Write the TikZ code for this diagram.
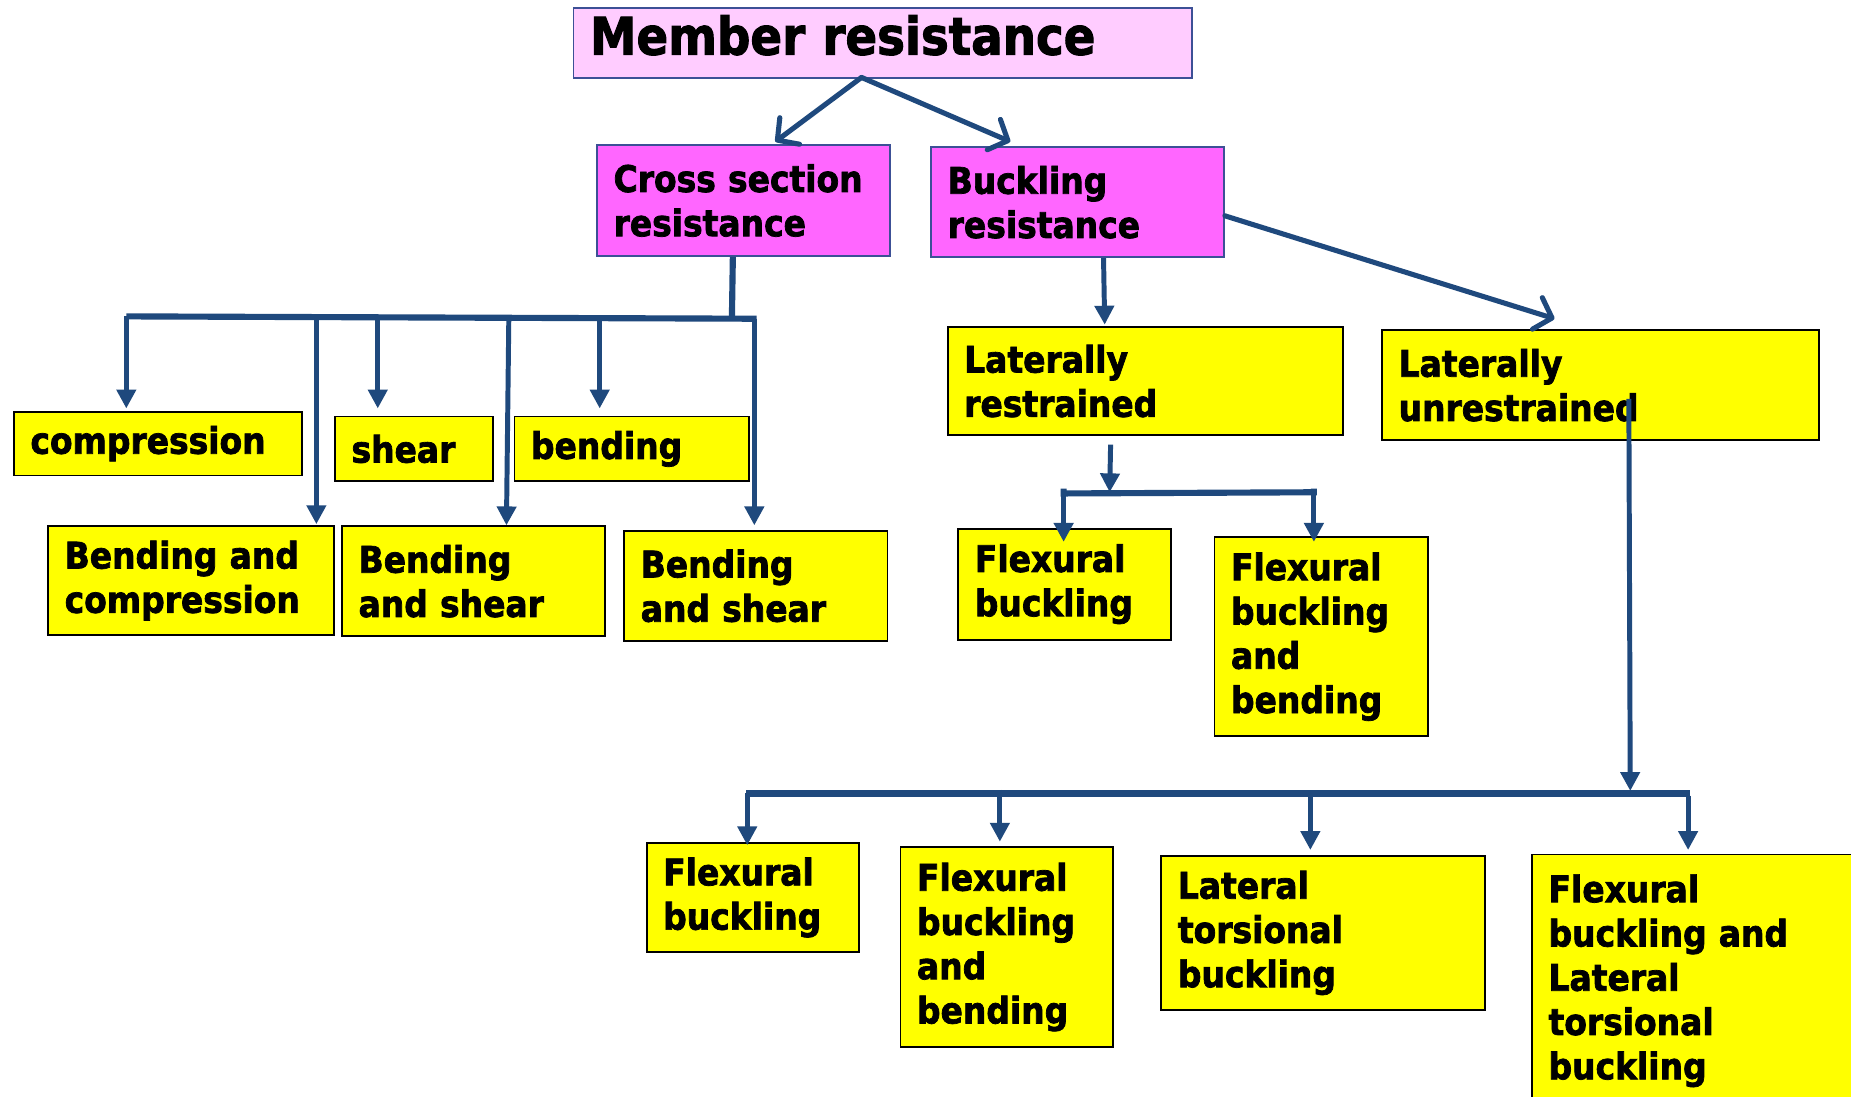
\documentclass[tikz,border=0pt]{standalone}
\usepackage{fontspec}
\setmainfont{DejaVu Sans}[FakeStretch=0.9,BoldFeatures={FakeBold=2}]
\usetikzlibrary{arrows.meta,calc}
\definecolor{linkblue}{RGB}{31,73,125}
\definecolor{palepink}{RGB}{255,204,255}
\definecolor{pinkbox}{RGB}{255,102,255}
\definecolor{frameblue}{RGB}{60,80,150}
\definecolor{boxyellow}{RGB}{255,255,0}
\begin{document}
\begin{tikzpicture}[x=1pt,y=-1pt,
  box/.style={draw=black, line width=1.6pt, fill=boxyellow, rectangle, anchor=north west,
    inner xsep=14pt, inner ysep=0pt, align=left,
    font=\bfseries\fontsize{31}{37.5}\selectfont},
  headbox/.style={box, draw=frameblue, fill=pinkbox},
  toparrow/.style={draw=linkblue, line width=4.3pt, line cap=round,
    -{Straight Barb[length=13pt,width=28pt,round]}},
  drop/.style={draw=linkblue, line width=4.2pt, -{Triangle[length=16pt,width=16pt]}},
  bar/.style={draw=linkblue, line width=5.2pt},
  thickbar/.style={draw=linkblue, line width=6.2pt}]
\useasboundingbox (0,0) rectangle (1568,929);
\clip (0,0) rectangle (1568,929);
\fill[white] (0,0) rectangle (1568,929);

% top level
\node[headbox, fill=palepink, minimum width=524pt, minimum height=59pt, text width=496pt,
  text height=32pt, text depth=12pt, font=\bfseries\fontsize{44}{50}\selectfont]
  (member) at (485,6) {Member~resistance};
\node[headbox, minimum width=248pt, minimum height=94pt, text width=220pt] (cross) at (505,122) {Cross~section\\resistance};
\node[headbox, minimum width=248pt, minimum height=93pt, text width=220pt] (buck) at (788,124) {Buckling\\resistance};

% cross section resistance branch
\node[box, minimum width=244pt, minimum height=54pt, text width=216pt] (comp) at (11,348) {compression};
\node[box, minimum width=134pt, minimum height=55pt, text width=106pt] (shear) at (283,352) {shear};
\node[box, minimum width=199pt, minimum height=55pt, text width=171pt] (bend) at (435,352) {bending};
\node[box, minimum width=242pt, minimum height=92pt, text width=214pt] (bendcomp) at (40,445) {Bending~and\\compression};
\node[box, minimum width=223pt, minimum height=93pt, text width=195pt] (bendshearA) at (289,445) {Bending\\and~shear};
\node[box, minimum width=223pt, minimum height=93pt, text width=195pt] (bendshearB) at (528,449) {Bending\\and~shear};

% buckling resistance branch
\node[box, minimum width=335pt, minimum height=92pt, text width=307pt] (latres) at (802,276) {Laterally\\restrained};
\node[box, minimum width=370pt, minimum height=93pt, text width=342pt] (latunres) at (1170,279) {Laterally\\unrestrained};
\node[box, minimum width=180pt, minimum height=94pt, text width=152pt] (flexA) at (811,447) {Flexural\\buckling};
\node[box, minimum width=181pt, minimum height=169pt, text width=153pt] (flexbendA) at (1028,454) {Flexural\\buckling\\and\\bending};
\node[box, minimum width=180pt, minimum height=93pt, text width=152pt] (flexB) at (547,713) {Flexural\\buckling};
\node[box, minimum width=180pt, minimum height=169pt, text width=152pt] (flexbendB) at (762,717) {Flexural\\buckling\\and\\bending};
\node[box, minimum width=274pt, minimum height=131pt, text width=246pt] (lts) at (983,724) {Lateral\\torsional\\buckling};
\node[box, minimum width=310pt, minimum height=214pt, text width=282pt] (flexlts) at (1297,723) {Flexural\\buckling~and\\Lateral\\torsional\\buckling};

% connectors from the top box
\draw[toparrow] ($(member.south)+(-18,-1)$) -- ($(cross.north)+(27,-2)$);
\draw[toparrow] ($(member.south)+(-18,-1)$) -- ($(buck.north)+(-57,-4)$);
\draw[toparrow] ($(buck.east)+(0,11.5)$) -- ($(latunres.north)+(-39,-9)$);
\draw[drop] ($(buck.south)+(22,0)$) -- ($(latres.north)+(-34.5,-1)$);

% cross section bus
\coordinate (jA) at (620,269);
\coordinate (aL) at (107,268);
\coordinate (aR) at (641,270);
\coordinate (a2) at (268,269);
\coordinate (a3) at (320,269);
\coordinate (a4) at (431,271);
\coordinate (a5) at (508,269);
\coordinate (a6) at (639,270);
\draw[bar] ($(cross.south)+(-9,0)$) -- (jA);
\draw[bar] (aL) -- (aR);
\draw[drop] (aL) -- ($(aL |- comp.north)+(0,-2)$);
\draw[drop] (a2) -- ($(a2 |- bendcomp.north)+(0,-1)$);
\draw[drop] (a3) -- ($(a3 |- shear.north)+(0,-6)$);
\draw[drop] (a4) -- ($(a4 |- bendshearA.north)+(-2,0)$);
\draw[drop] (a5) -- ($(a5 |- bend.north)+(0,-6)$);
\draw[drop] (a6) -- ($(a6 |- bendshearB.north)+(0,-4)$);

% laterally restrained bus
\coordinate (jB) at (940,417);
\coordinate (bL) at (901,418);
\coordinate (bR) at (1113,417);
\draw[drop] ($(latres.south)+(-29.5,7)$) -- (jB);
\draw[bar] ($(bL)+(0,-4)$) -- (bL) -- (bR) -- ($(bR)+(0,-3)$);
\draw[drop] (bL) -- ($(bL |- flexA.north)+(0,12)$);
\draw[drop] (bR) -- ($(bR |- flexbendA.north)+(0,5)$);

% laterally unrestrained bus
\coordinate (jC) at (1381,670);
\coordinate (cL) at (632,672);
\coordinate (cR) at (1432,672);
\coordinate (c1) at (633,672);
\coordinate (c2) at (847,669);
\coordinate (c3) at (1110,674);
\coordinate (c4) at (1430,674);
\draw[drop] ($(latunres.center)+(24,11.5)$) -- (jC);
\draw[thickbar] (cL) -- (cR);
\draw[drop] (c1) -- ($(c1 |- flexB.north)+(0,3)$);
\draw[drop] (c2) -- ($(c2 |- flexbendB.north)+(0,-4)$);
\draw[drop] (c3) -- ($(c3 |- lts.north)+(0,-4)$);
\draw[drop] (c4) -- ($(c4 |- flexlts.north)+(0,-3)$);
\end{tikzpicture}
\end{document}
